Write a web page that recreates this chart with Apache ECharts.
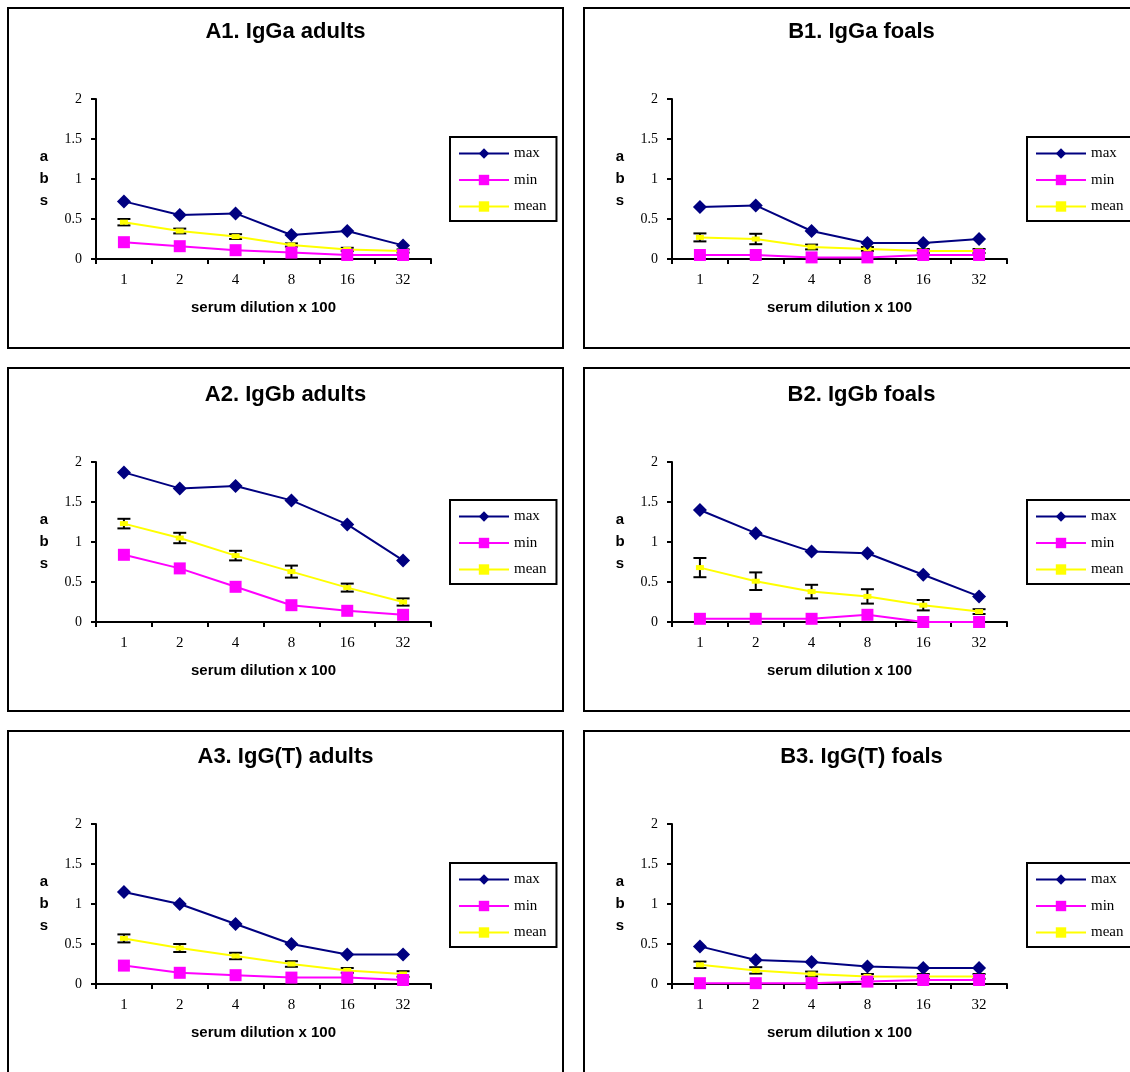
<!DOCTYPE html>
<html><head><meta charset="utf-8">
<script src="https://cdn.jsdelivr.net/npm/echarts@6/dist/echarts.min.js"></script>
<style>html,body{margin:0;padding:0;background:#fff}#c{width:1130px;height:1072px}</style>
</head><body><div id="c"></div>
<script>
// ---- data ----
const categories = ['1', '2', '4', '8', '16', '32'];
const seriesNames = ['max', 'min', 'mean'];
const panelTitles = ['A1. IgGa adults', 'B1. IgGa foals', 'A2. IgGb adults', 'B2. IgGb foals', 'A3. IgG(T) adults', 'B3. IgG(T) foals'];

const A1_max  = [0.72, 0.55, 0.57, 0.30, 0.35, 0.17];
const A1_min  = [0.21, 0.16, 0.11, 0.08, 0.05, 0.05];
const A1_mean = [0.46, 0.35, 0.28, 0.175, 0.12, 0.10];
const A1_err  = [0.04, 0.03, 0.03, 0.02, 0.02, 0.02];

const B1_max  = [0.65, 0.67, 0.35, 0.20, 0.20, 0.25];
const B1_min  = [0.05, 0.05, 0.02, 0.02, 0.05, 0.05];
const B1_mean = [0.27, 0.25, 0.15, 0.125, 0.10, 0.10];
const B1_err  = [0.05, 0.065, 0.03, 0.025, 0.025, 0.025];

const A2_max  = [1.87, 1.67, 1.70, 1.52, 1.22, 0.77];
const A2_min  = [0.84, 0.67, 0.44, 0.21, 0.14, 0.09];
const A2_mean = [1.23, 1.05, 0.83, 0.63, 0.43, 0.25];
const A2_err  = [0.06, 0.065, 0.06, 0.075, 0.05, 0.045];

const B2_max  = [1.40, 1.11, 0.88, 0.86, 0.59, 0.32];
const B2_min  = [0.04, 0.04, 0.04, 0.09, 0.0, 0.0];
const B2_mean = [0.68, 0.51, 0.38, 0.32, 0.21, 0.13];
const B2_err  = [0.12, 0.11, 0.085, 0.09, 0.065, 0.03];

const A3_max  = [1.15, 1.00, 0.75, 0.50, 0.37, 0.37];
const A3_min  = [0.23, 0.14, 0.11, 0.08, 0.08, 0.05];
const A3_mean = [0.57, 0.45, 0.35, 0.25, 0.17, 0.125];
const A3_err  = [0.05, 0.05, 0.04, 0.035, 0.03, 0.035];

const B3_max  = [0.47, 0.30, 0.275, 0.22, 0.20, 0.20];
const B3_min  = [0.01, 0.01, 0.01, 0.03, 0.05, 0.05];
const B3_mean = [0.24, 0.17, 0.125, 0.095, 0.095, 0.095];
const B3_err  = [0.04, 0.04, 0.03, 0.03, 0.03, 0.03];

const yMin = 0, yMax = 2, yStep = 0.5;

const panels = [
  {max: A1_max, min: A1_min, mean: A1_mean, err: A1_err},
  {max: B1_max, min: B1_min, mean: B1_mean, err: B1_err},
  {max: A2_max, min: A2_min, mean: A2_mean, err: A2_err},
  {max: B2_max, min: B2_min, mean: B2_mean, err: B2_err},
  {max: A3_max, min: A3_min, mean: A3_mean, err: A3_err},
  {max: B3_max, min: B3_min, mean: B3_mean, err: B3_err}
];

// ---- layout ----
const SANS = "'Liberation Sans', Arial, sans-serif";
const SERIF = "'Liberation Serif', 'Times New Roman', serif";
const colFrameX = [8, 584], colGridX = [96, 672], colLegendX = [450, 1027];
const rowFrameY = [8, 368, 731], rowFrameH = [340, 343, 400], rowGridY = [99, 462, 824];
const rowLegendY = [137, 500, 863], rowTitleY = [21, 384, 746];
const COLORS = {max: '#000080', min: '#FF00FF', mean: '#FFFF00'};

function errRender(params, api) {
  const x = api.value(0), lo = api.value(1), hi = api.value(2);
  const a = api.coord([x, lo]), b = api.coord([x, hi]);
  const hw = 6.5, st = {stroke: '#000', lineWidth: 2};
  return {type: 'group', children: [
    {type: 'line', shape: {x1: a[0], y1: a[1], x2: b[0], y2: b[1]}, style: st},
    {type: 'line', shape: {x1: a[0] - hw, y1: a[1], x2: a[0] + hw, y2: a[1]}, style: st},
    {type: 'line', shape: {x1: b[0] - hw, y1: b[1], x2: b[0] + hw, y2: b[1]}, style: st}
  ]};
}

const option = {
  animation: false, backgroundColor: '#fff',
  title: [], legend: [], grid: [], xAxis: [], yAxis: [], series: [], graphic: []
};

panels.forEach((p, i) => {
  const col = i % 2, row = Math.floor(i / 2);
  option.graphic.push({type: 'rect', silent: true, z: 0,
    shape: {x: colFrameX[col], y: rowFrameY[row], width: col === 0 ? 555 : 600, height: rowFrameH[row]},
    style: {fill: 'none', stroke: '#000', lineWidth: 2}});
  option.title.push({text: panelTitles[i], left: colFrameX[col] + 277.5, top: rowTitleY[row], textAlign: 'center', padding: 0,
    textStyle: {fontFamily: SANS, fontSize: 22, fontWeight: 'bold', color: '#000'}});
  option.legend.push({data: seriesNames, orient: 'vertical', left: colLegendX[col], top: rowLegendY[row],
    itemWidth: 50, itemHeight: 13, itemGap: 11.5, padding: [9, 10, 7, 8], borderColor: '#000', borderWidth: 2,
    textStyle: {fontFamily: SERIF, fontSize: 15, color: '#000'}, selectedMode: false});
  option.grid.push({left: colGridX[col], top: rowGridY[row], width: 335, height: 160});
  option.xAxis.push({type: 'category', gridIndex: i, data: categories, boundaryGap: true,
    axisLine: {lineStyle: {color: '#000', width: 2}},
    axisTick: {show: true, length: 5, lineStyle: {color: '#000', width: 2}},
    axisLabel: {fontFamily: SERIF, fontSize: 15, color: '#000', margin: 14},
    splitLine: {show: false},
    name: 'serum dilution x 100', nameLocation: 'middle', nameGap: 41,
    nameTextStyle: {fontFamily: SANS, fontSize: 15, fontWeight: 'bold', color: '#000'}});
  option.yAxis.push({type: 'value', gridIndex: i, min: yMin, max: yMax, interval: yStep,
    axisLine: {show: true, lineStyle: {color: '#000', width: 2}},
    axisTick: {show: true, length: 5, lineStyle: {color: '#000', width: 2}},
    axisLabel: {fontFamily: SERIF, fontSize: 14, color: '#000', margin: 14},
    splitLine: {show: false},
    name: 'a\nb\ns', nameLocation: 'middle', nameRotate: 0, nameGap: 52,
    nameTextStyle: {fontFamily: SANS, fontSize: 15, fontWeight: 'bold', color: '#000', lineHeight: 22, align: 'center'}});
  option.series.push({type: 'custom', name: 'err' + i, xAxisIndex: i, yAxisIndex: i, z: 1,
    renderItem: errRender,
    data: p.mean.map((m, k) => [k, m - p.err[k], m + p.err[k]])});
  option.series.push({type: 'line', name: 'max', xAxisIndex: i, yAxisIndex: i, data: p.max, z: 3,
    symbol: 'diamond', symbolSize: 14, itemStyle: {color: COLORS.max}, lineStyle: {color: COLORS.max, width: 2}});
  option.series.push({type: 'line', name: 'min', xAxisIndex: i, yAxisIndex: i, data: p.min, z: 3,
    symbol: 'rect', symbolSize: 12, itemStyle: {color: COLORS.min}, lineStyle: {color: COLORS.min, width: 2}});
  option.series.push({type: 'line', name: 'mean', xAxisIndex: i, yAxisIndex: i, data: p.mean, z: 2,
    symbol: 'rect', symbolSize: [8, 5], itemStyle: {color: COLORS.mean}, lineStyle: {color: COLORS.mean, width: 2}});
});

const chart = echarts.init(document.getElementById('c'), null, {renderer: 'canvas'});
chart.setOption(option);
</script>
</body></html>
